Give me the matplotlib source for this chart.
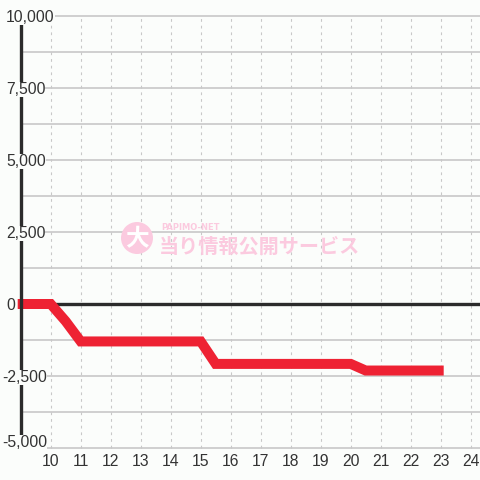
import numpy as np
import matplotlib.pyplot as plt
from matplotlib.patches import Circle

# data
hours = [8.9, 10, 10.5, 11, 15, 15.5, 20, 20.5, 23.1]
values = [0, 0, -600, -1300, -1300, -2080, -2080, -2310, -2310]

x_ticks = list(range(10, 25))
y_ticks = [10000, 7500, 5000, 2500, 0, -2500, -5000]
y_labels = ["10,000", "7,500", "5,000", "2,500", "0", "-2,500", "-5,000"]
y_grid = np.arange(-5000, 10001, 1250)

bg = '#fbfdfb'
grid_col = '#c8c8c8'
txt_col = '#333333'

fig = plt.figure(figsize=(4.8, 4.8), dpi=100)
fig.patch.set_facecolor(bg)
ax = fig.add_axes([0, 0, 1, 1])
ax.set_facecolor(bg)
ax.set_xlim(10 - 50.7 / 30, 10 + (480 - 50.7) / 30)
ax.set_ylim(-176 / 28.8 * 1000, 304 / 28.8 * 1000)
ax.axis('off')

# grid
ax.hlines(y_grid, 9, ax.get_xlim()[1], color=grid_col, lw=1.2, zorder=1)
ax.vlines(x_ticks, -5000, 10000, color=grid_col, lw=0.8, linestyles=(0, (2.5, 3.5)), zorder=1)

# zero line and y axis
ax.hlines(0, 9, ax.get_xlim()[1], color='#2b2b2b', lw=2.4, zorder=2)

# watermark
wm = '#fbcadf'
fig.patches.append(Circle((137 / 480, 1 - 238 / 480), 16 / 480, transform=fig.transFigure,
                          facecolor=wm, edgecolor='none', zorder=3))
fig.text(137 / 480, 1 - 239 / 480, '大', color='white', fontsize=17, fontweight='bold',
         family=['Noto Sans CJK JP'], ha='center', va='center', zorder=4)
fig.text(161 / 480, 1 - 227 / 480, 'PAPIMO-NET', color=wm, fontsize=6, fontweight='bold',
         ha='left', va='center', zorder=4)
fig.text(159 / 480, 1 - 246 / 480, '当り情報公開サービス', color=wm, fontsize=14.5, fontweight='bold',
         family=['Noto Sans CJK JP'], ha='left', va='center', zorder=4)

# series
ax.plot(hours, values, color='#ee2233', lw=7.2, solid_capstyle='butt',
        solid_joinstyle='miter', zorder=5)

ax.vlines(9, -5000, 10000, color='#2b2b2b', lw=2.4, zorder=6)

# labels (bottom one pushed up to stay clear of the x labels)
for v, lab in zip(y_ticks, y_labels):
    y = v - 40 if v > -5000 else v + 200
    ax.text(ax.get_xlim()[0] + (6 if v >= 0 else 2) / 30, y, lab, color=txt_col,
            fontsize=11.3, family='Liberation Sans', ha='left', va='center', zorder=7,
            bbox=dict(boxstyle='square,pad=0', facecolor=bg, edgecolor='none'))
for x in x_ticks:
    ax.text(x, -5486, str(x), color=txt_col, fontsize=11.3, family='Liberation Sans',
            ha='center', va='center', zorder=7)

fig.savefig('out.png', dpi=100, facecolor=bg)
